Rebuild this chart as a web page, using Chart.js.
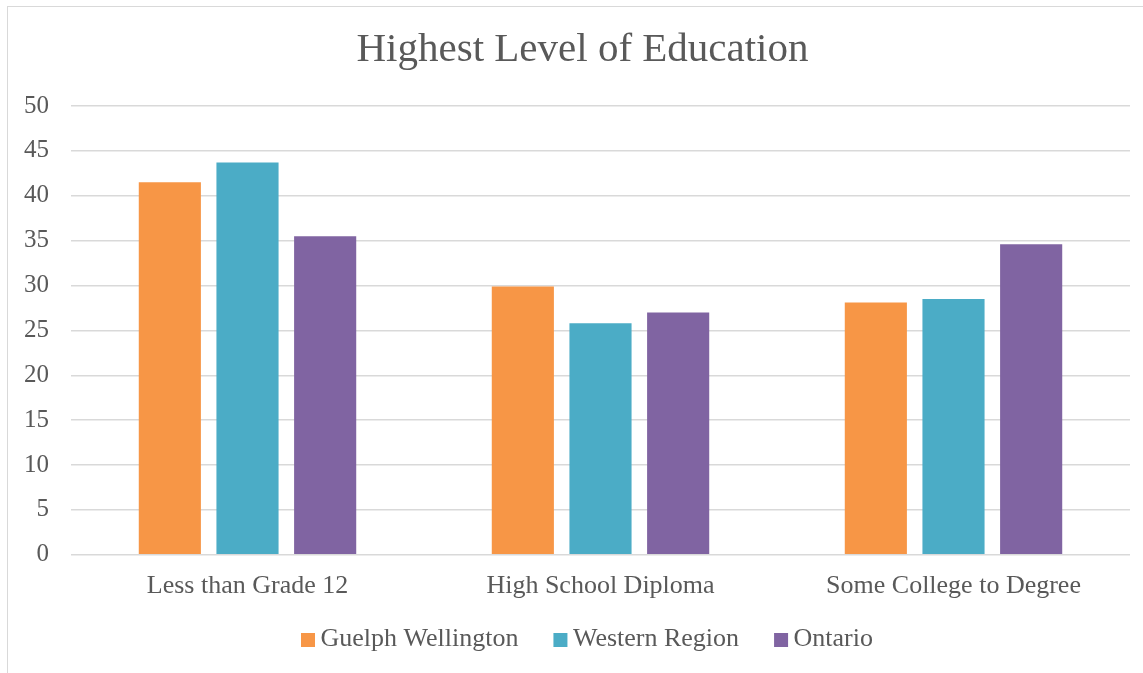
<!DOCTYPE html>
<html>
<head>
<meta charset="utf-8">
<script src="https://cdn.jsdelivr.net/npm/chart.js@4/dist/chart.umd.min.js"></script>
<style>
  html, body { margin: 0; padding: 0; background: #fff; overflow: hidden; }
  #frame { position: absolute; left: 7px; top: 6px; width: 1200px; height: 720px; border: 1.5px solid #D9D9D9; box-sizing: border-box; }
  #wrap { position: absolute; left: 0; top: 0; width: 1143px; height: 673px; }
</style>
</head>
<body>
<div id="frame"></div>
<div id="wrap"><canvas id="c" width="1143" height="673"></canvas></div>
<script>
const categories = ["Less than Grade 12", "High School Diploma", "Some College to Degree"];
const seriesNames = ["Guelph Wellington", "Western Region", "Ontario"];
const guelphWellington = [41.5, 29.9, 28.1];
const westernRegion = [43.7, 25.8, 28.5];
const ontario = [35.5, 27.0, 34.6];
const yTicks = [0, 5, 10, 15, 20, 25, 30, 35, 40, 45, 50];
const colors = ["#F79646", "#4BACC6", "#8064A2"];
const chartTitle = "Highest Level of Education";

const FONT = "'Liberation Serif', 'Times New Roman', serif";
const TXT = "#595959";

// Draws the title and the legend (from the chart's own datasets)
const titleLegendPlugin = {
  id: 'titleLegend',
  afterDraw(chart) {
    const ctx = chart.ctx;
    ctx.save();
    ctx.fillStyle = TXT;
    ctx.textBaseline = 'middle';
    ctx.textAlign = 'center';
    ctx.font = "41px " + FONT;
    ctx.fillText(chartTitle, 582.5, 50);

    ctx.font = "26px " + FONT;
    ctx.textAlign = 'left';
    const box = 14, gapText = 5.5, gapItem = 35;
    const items = chart.data.datasets.map(ds => ({
      text: ds.label, color: ds.backgroundColor, w: ctx.measureText(ds.label).width
    }));
    const total = items.reduce((s, it) => s + box + gapText + it.w, 0) + gapItem * (items.length - 1);
    let x = 587 - total / 2;
    const y = 639;
    items.forEach(it => {
      ctx.fillStyle = it.color;
      ctx.fillRect(x, y - 6, box, 14);
      ctx.fillStyle = TXT;
      ctx.fillText(it.text, x + box + gapText, y);
      x += box + gapText + it.w + gapItem;
    });
    ctx.restore();
  }
};

new Chart(document.getElementById('c'), {
  type: 'bar',
  data: {
    labels: categories,
    datasets: [guelphWellington, westernRegion, ontario].map((d, i) => ({
      label: seriesNames[i],
      data: d,
      backgroundColor: colors[i],
      borderWidth: 0,
      categoryPercentage: 0.66,
      barPercentage: 0.8
    }))
  },
  plugins: [titleLegendPlugin],
  options: {
    responsive: false,
    animation: false,
    layout: { padding: { left: 2, right: 13, top: 106, bottom: 55 } },
    plugins: {
      title: { display: false },
      legend: { display: false },
      tooltip: { enabled: false }
    },
    scales: {
      x: {
        grid: { display: false, drawTicks: false },
        border: { display: false },
        ticks: { color: TXT, font: { family: FONT, size: 26 }, padding: 16 }
      },
      y: {
        min: 0,
        max: 50,
        afterBuildTicks: (axis) => { axis.ticks = yTicks.map(v => ({ value: v })); },
        grid: { color: "#D9D9D9", lineWidth: 1.5, drawTicks: false },
        border: { display: false },
        ticks: { color: TXT, font: { family: FONT, size: 25 }, padding: 22 }
      }
    }
  }
});
</script>
</body>
</html>
